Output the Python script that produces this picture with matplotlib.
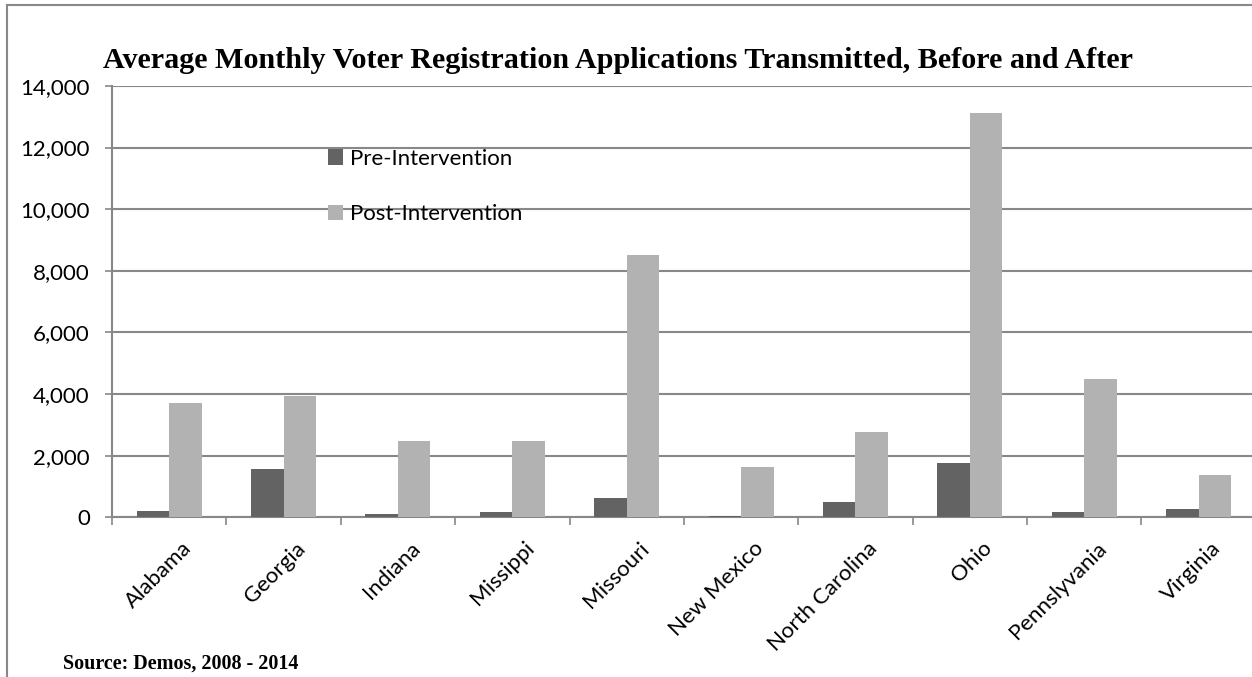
import matplotlib
matplotlib.use("Agg")
import matplotlib.pyplot as plt
import matplotlib.transforms as mtransforms
from matplotlib.lines import Line2D
from matplotlib.ticker import FuncFormatter
import numpy as np

states = ["Alabama", "Georgia", "Indiana", "Missippi", "Missouri",
          "New Mexico", "North Carolina", "Ohio", "Pennslyvania", "Virginia"]
pre = [205, 1550, 90, 175, 630, 40, 485, 1755, 160, 280]
post = [3700, 3945, 2480, 2460, 8520, 1620, 2765, 13120, 4480, 1370]

title = "Average Monthly Voter Registration Applications Transmitted, Before and After"
source = "Source: Demos, 2008 - 2014"

pre_color = "#636363"
post_color = "#b2b2b2"
line_color = "#888888"

fig = plt.figure(figsize=(12.52, 6.77), dpi=100)
ax = fig.add_axes([0.0895, 0.236, 0.9135, 0.637])

x = np.arange(len(states))
bw = 0.284
ax.bar(x - bw / 2, pre, bw, color=pre_color, label="Pre-Intervention", zorder=3)
ax.bar(x + bw / 2, post, bw, color=post_color, label="Post-Intervention", zorder=3)

ax.set_xlim(-0.5, len(states) - 0.5)
ax.set_ylim(0, 14000)
ax.set_yticks(np.arange(0, 14001, 2000))
ax.yaxis.set_major_formatter(FuncFormatter(lambda v, p: f"{int(v):,}"))
ax.yaxis.grid(True, color=line_color, linewidth=1.5, zorder=0)
ax.set_axisbelow(True)

for s in ["top", "right"]:
    ax.spines[s].set_visible(False)
for s in ["left", "bottom"]:
    ax.spines[s].set_color(line_color)
    ax.spines[s].set_linewidth(1.5)

ax.tick_params(axis="y", length=5, width=1.2, color=line_color, pad=11,
               labelsize=16, labelcolor="black")
ax.set_xticks(x)
ax.set_xticklabels(states, rotation=45, ha="right", rotation_mode="anchor",
                   fontsize=16)
ax.tick_params(axis="x", which="major", length=0, pad=15)
ax.set_xticks(np.arange(-0.5, len(states), 1), minor=True)
ax.tick_params(axis="x", which="minor", length=6, width=1.2, color=line_color)
offset = mtransforms.ScaledTranslation(12 / 100, 0, fig.dpi_scale_trans)
for lbl in ax.get_xticklabels():
    lbl.set_transform(lbl.get_transform() + offset)
for lbl in ax.get_xticklabels() + ax.get_yticklabels():
    lbl.set_family("Lato")

ax.legend(loc="upper left", bbox_to_anchor=(0.179, 0.88), frameon=False,
          prop={"family": "Lato", "size": 16}, handlelength=0.7,
          handleheight=0.7, handletextpad=0.3, labelspacing=1.6,
          borderpad=0)

fig.text(0.494, 0.911, title, ha="center", va="center", fontsize=21.7,
         fontweight="bold", family="Liberation Serif")
fig.text(0.05, 0.02, source, ha="left", va="center", fontsize=14.5,
         fontweight="bold", family="Liberation Serif")

# outer frame (top and left edges visible)
fig.add_artist(Line2D([0.0056, 1.0], [0.993, 0.993], transform=fig.transFigure,
                      color=line_color, linewidth=1.5))
fig.add_artist(Line2D([0.0056, 0.0056], [0.0, 0.993], transform=fig.transFigure,
                      color=line_color, linewidth=1.5))

fig.savefig("out.png", dpi=100)
